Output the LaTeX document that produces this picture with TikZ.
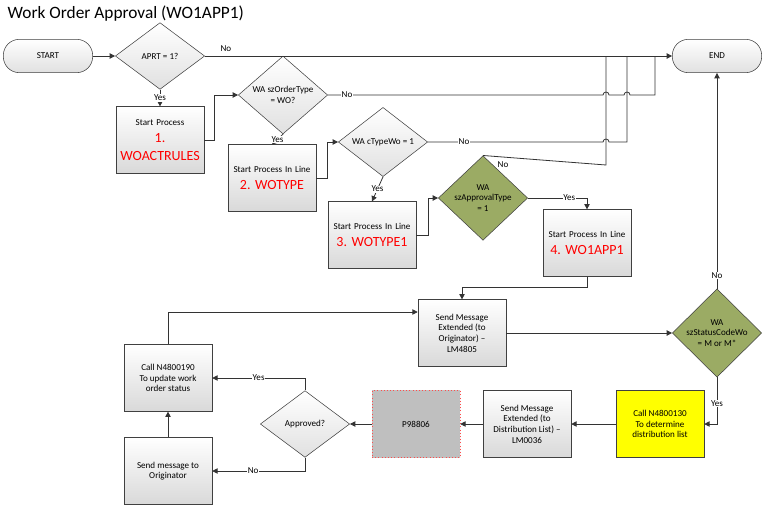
\documentclass[tikz,border=0pt]{standalone}
\usepackage{fontspec}
\setmainfont{Carlito}
\usetikzlibrary{shapes.geometric,arrows.meta}

\definecolor{wagreen}{RGB}{155,171,100}
\newcommand\rednum[1]{{\color{red}\fontsize{10.5}{13}\selectfont #1\par}}

\tikzset{
  proc/.style={draw=black!75, top color=white, bottom color=black!15, minimum width=66pt, minimum height=50pt, align=center, font=\fontsize{6.8}{8}\selectfont, inner sep=1pt},
  dec/.style={diamond, draw=black!75, top color=white, bottom color=black!12, minimum width=67pt, minimum height=50pt, inner sep=0pt, align=center, font=\fontsize{6.8}{8}\selectfont},
  gdec/.style={dec, top color=wagreen, bottom color=wagreen},
  term/.style={draw=black!75, rounded corners=12pt, top color=white, bottom color=black!12, minimum width=67pt, minimum height=25pt, font=\fontsize{6.8}{8}\selectfont},
  lbl/.style={font=\fontsize{6.8}{8}\selectfont, fill=white, inner sep=0.5pt},
  flow/.style={draw=black!80, line width=0.6pt, -{Triangle[length=4pt,width=4pt]}},
  line/.style={draw=black!80, line width=0.6pt}
}

\begin{document}
\begin{tikzpicture}[x=0.75pt,y=-0.75pt]
\useasboundingbox (0,0) rectangle (771,507);

% title
\node[anchor=west, font=\fontsize{13}{15}\selectfont] (title) at (3,14) {Work Order Approval (WO1APP1)};

% top row
\node[term] (start) at (48,56) {START};
\node[dec] (aprt) at (160,56) {APRT = 1?};
\node[term] (end) at (717,56) {END};

% process chain
\node[proc, text width=62pt] (p1) at (160,140) {Start Process\par\rednum{1.}\rednum{WOACTRULES}};
\node[dec] (d2) at (283,95) {WA szOrderType\\= WO?};
\node[proc, text width=62pt] (p2) at (272,178) {Start Process In Line\par\rednum{2. WOTYPE}};
\node[dec] (d3) at (383,142) {WA cTypeWo = 1};
\node[proc, text width=62pt] (p3) at (372,235) {Start Process In Line\par\rednum{3. WOTYPE1}};
\node[gdec] (d4) at (483,198) {WA\\szApprovalType\\= 1};
\node[proc, text width=62pt] (p4) at (587,243) {Start Process In Line\par\rednum{4. WO1APP1}};
\node[proc] (p5) at (462,333) {Send Message\\Extended (to\\Originator) --\\LM4805};
\node[gdec] (d6) at (717,333) {WA\\szStatusCodeWo\\= M or M*};

% bottom row
\node[proc, top color=yellow, bottom color=yellow] (call1) at (660,424) {Call N4800130\\To determine\\distribution list};
\node[proc] (p6) at (527,424) {Send Message\\Extended (to\\Distribution List) --\\LM0036};
\node[proc, draw=red!70, dotted, top color=black!25, bottom color=black!25] (form) at (416,424) {P98806};
\node[dec] (appr) at (305,424) {Approved?};
\node[proc] (call2) at (168,378) {Call N4800190\\To update work\\order status};
\node[proc] (msg) at (168,471) {Send message to\\Originator};

% connectors, top
\draw[flow] (start) -- (aprt);
\draw[flow] (aprt.east) -- (end.west) node[pos=0.045, above, font=\fontsize{6.8}{8}\selectfont] {No};
\draw[flow] (aprt.south) -- (p1.north) node[midway, lbl] {Yes};
\draw[flow] (p1.east) -- ++(10,0) |- (d2.west);
\draw[flow] (d2.south) -- (p2.north) node[midway, lbl] {Yes};
\draw[flow] (p2.east) -- ++(11,0) |- (d3.west);
\draw[flow] (d3.south) -- (p3.north) node[midway, lbl] {Yes};
\draw[flow] (p3.east) -- ++(12,0) |- (d4.west);
\draw[flow] (d4.east) -| (p4.north) node[pos=0.35, lbl] {Yes};

% "No" branches to END, with hops
\draw[line] (d2.east) -- (603,95) arc[start angle=180, end angle=360, radius=3]
  -- (624,95) arc[start angle=180, end angle=360, radius=3] -- (655,95) -- (655,56);
\node[lbl] (no2) at (347,95) {No};
\draw[line] (d3.east) -- (603,142) arc[start angle=180, end angle=360, radius=3] -- (627,142) -- (627,56);
\node[lbl] (no3) at (464,142) {No};
\draw[line] (d4.north) -- (606,165) -- (606,56);
\node[lbl] (no4) at (503,165) {No};

% middle
\draw[flow] (p4.south) -- ++(0,11) -| (p5.north);
\draw[flow] (p5.east) -- (d6.west);
\draw[flow] (d6.north) -- (end.south) node[pos=0.06, lbl] {No};
\draw[flow] (d6.south) |- (call1.east) node[pos=0.28, lbl] {Yes};

% bottom
\draw[flow] (call1) -- (p6);
\draw[flow] (p6) -- (form);
\draw[flow] (form) -- (appr);
\draw[flow] (appr.north) |- (call2.east) node[pos=0.75, lbl] {Yes};
\draw[flow] (appr.south) |- (msg.east) node[pos=0.78, lbl] {No};
\draw[flow] (msg) -- (call2);
\draw[flow] (call2.north) |- ([yshift=15.75pt]p5.west);
\end{tikzpicture}
\end{document}
